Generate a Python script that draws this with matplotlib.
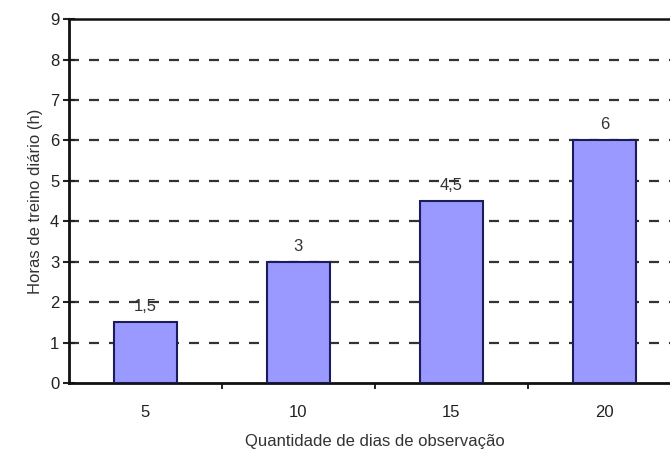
import matplotlib.pyplot as plt
import numpy as np

# =========================
# Data
# =========================
dias = ["5", "10", "15", "20"]
horas = [1.5, 3, 4.5, 6]
rotulos = ["1,5", "3", "4,5", "6"]
y_ticks = [0, 1, 2, 3, 4, 5, 6, 7, 8, 9]

BAR_COLOR = "#9999ff"
EDGE_COLOR = "#1c1c5a"
TEXT_COLOR = "#222222"

plt.rcParams["font.family"] = ["Liberation Sans", "DejaVu Sans"]

fig = plt.figure(figsize=(6.7, 4.57), dpi=100)
ax = fig.add_axes([0.103, 0.162, 0.913, 0.796])

x = np.arange(len(dias))
ax.bar(x, horas, width=0.41, color=BAR_COLOR, edgecolor=EDGE_COLOR,
       linewidth=1.5, zorder=3)

for xi, h, lab in zip(x, horas, rotulos):
    ax.text(xi, h + 0.2, lab, ha="center", va="bottom", fontsize=12,
            color="#333333", zorder=2)

# dashed grid lines
for yv in y_ticks[1:-1]:
    ax.axhline(yv, color="#333333", linestyle=(0, (4.5, 4.5)), linewidth=1.6,
               zorder=1)

ax.set_xlim(-0.5, 3.5)
ax.set_ylim(0, 9)
ax.set_yticks(y_ticks)
ax.set_xticks(x)
ax.set_xticklabels(dias)
ax.set_xticks([0.5, 1.5, 2.5], minor=True)

ax.tick_params(axis="y", direction="inout", length=8, width=1.5,
               labelsize=12, pad=3, colors=TEXT_COLOR)
ax.tick_params(axis="x", which="major", length=0, labelsize=12, pad=16,
               colors=TEXT_COLOR)
ax.tick_params(axis="x", which="minor", direction="out", length=4, width=1.2)

for side in ["left", "bottom"]:
    ax.spines[side].set_linewidth(2)
    ax.spines[side].set_color("#111111")
ax.spines["top"].set_linewidth(1.8)
ax.spines["top"].set_color("#111111")
ax.spines["right"].set_visible(False)

ax.set_xlabel("Quantidade de dias de observação", fontsize=12,
              color="#333333", labelpad=10)
ax.set_ylabel("Horas de treino diário (h)", fontsize=12, color="#333333",
              labelpad=5)

fig.savefig("out.png", dpi=100)
